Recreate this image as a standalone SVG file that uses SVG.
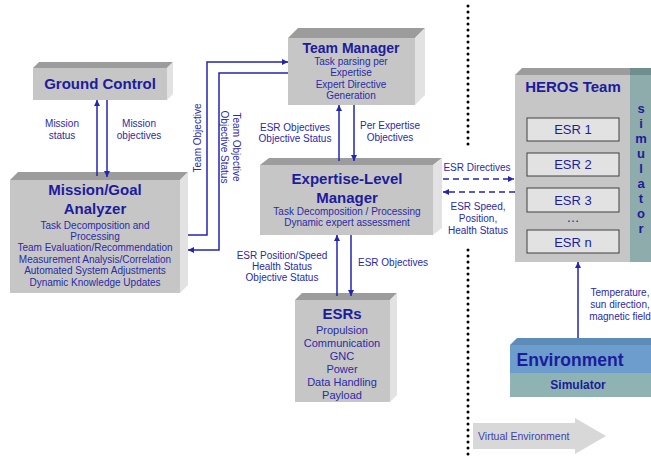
<svg xmlns="http://www.w3.org/2000/svg" width="651" height="460" viewBox="0 0 651 460">
<defs>
<style>
text{font-family:"Liberation Sans",Arial,sans-serif;text-anchor:middle}
.h{font-weight:bold;fill:#1c1c9c}
.s{font-size:10px;fill:#2a2aa8}
.l{font-size:10px;fill:#2a2aa8}
.fr{fill:#c6c6c6}
.tp{fill:#9c9c9c}
.sd{fill:#e2e2e2}
.ln{fill:none;stroke:#2424b4;stroke-width:1.5}
.dl{fill:none;stroke:#2424b4;stroke-width:1.5;stroke-dasharray:6 4}
.esr{fill:#e2e2e2;stroke:#404040;stroke-width:1}
.et{font-size:13px;fill:#1c1c9c}
.sim{font-size:13px;font-weight:bold;fill:#1c1c9c}
</style>
<marker id="ah" viewBox="0 0 10 10" refX="10" refY="5" markerWidth="6" markerHeight="6" markerUnits="userSpaceOnUse" orient="auto">
<path d="M0,0 L10,5 L0,10 Z" fill="#2424b4"/>
</marker>
</defs>

<!-- dotted divider -->
<g id="divider">
<line x1="468" y1="6" x2="468" y2="146" stroke="#000" stroke-width="3" stroke-linecap="round" stroke-dasharray="0 6"/>
<line x1="468" y1="250" x2="468" y2="460" stroke="#000" stroke-width="3" stroke-linecap="round" stroke-dasharray="0 6"/>
</g>

<g id="ground-control">
<polygon class="tp" points="33,68 39,62 173,62 167,68"/>
<polygon class="sd" points="167,68 173,62 173,94 167,100"/>
<rect class="fr" x="33" y="68" width="134" height="32"/>
<text class="h" x="100" y="89" font-size="15">Ground Control</text>
</g>

<g id="mission-goal-analyzer">
<polygon class="tp" points="10,180 18,172 188,172 180,180"/>
<polygon class="sd" points="180,180 188,172 188,285 180,293"/>
<rect class="fr" x="10" y="180" width="170" height="113"/>
<text class="h" x="95" y="195" font-size="15">Mission/Goal</text>
<text class="h" x="95" y="214" font-size="15">Analyzer</text>
<text class="s" x="95" y="229">Task Decomposition and</text>
<text class="s" x="95" y="240">Processing</text>
<text class="s" x="95" y="251">Team Evaluation/Recommendation</text>
<text class="s" x="95" y="263">Measurement Analysis/Correlation</text>
<text class="s" x="95" y="274">Automated System Adjustments</text>
<text class="s" x="95" y="286">Dynamic Knowledge Updates</text>
</g>

<g id="team-manager">
<polygon class="tp" points="288,38 298,28 425,28 415,38"/>
<polygon class="sd" points="415,38 425,28 425,95 415,105"/>
<rect class="fr" x="288" y="38" width="127" height="67"/>
<text class="h" x="351" y="53" font-size="14">Team Manager</text>
<text class="s" x="351" y="65">Task parsing per</text>
<text class="s" x="351" y="76">Expertise</text>
<text class="s" x="351" y="88">Expert Directive</text>
<text class="s" x="351" y="99">Generation</text>
</g>

<g id="expertise-level-manager">
<polygon class="tp" points="260,165 269,158 442,158 433,165"/>
<polygon class="sd" points="433,165 442,158 442,228 433,235"/>
<rect class="fr" x="260" y="165" width="173" height="70"/>
<text class="h" x="347" y="184" font-size="15">Expertise-Level</text>
<text class="h" x="347" y="203" font-size="15">Manager</text>
<text class="s" x="347" y="215">Task Decomposition / Processing</text>
<text class="s" x="347" y="226">Dynamic expert assessment</text>
</g>

<g id="esrs">
<polygon class="tp" points="295,300 302,293 397,293 390,300"/>
<polygon class="sd" points="390,300 397,293 397,395 390,402"/>
<rect class="fr" x="295" y="300" width="95" height="102"/>
<text class="h" x="342" y="319" font-size="15">ESRs</text>
<text class="s" x="342" y="334" font-size="11" style="font-size:11px">Propulsion</text>
<text class="s" x="342" y="347" style="font-size:11px">Communication</text>
<text class="s" x="342" y="360" style="font-size:11px">GNC</text>
<text class="s" x="342" y="373" style="font-size:11px">Power</text>
<text class="s" x="342" y="386" style="font-size:11px">Data Handling</text>
<text class="s" x="342" y="399" style="font-size:11px">Payload</text>
</g>

<g id="heros-team">
<polygon class="tp" points="515,75 522,68 630,68 630,75"/>
<polygon fill="#6f8f8e" points="630,75 630,68 651,68 651,75"/>
<rect class="fr" x="515" y="75" width="115" height="187"/>
<rect fill="#8eacab" x="630" y="75" width="21" height="187"/>
<text class="h" x="573" y="92" font-size="15">HEROS Team</text>
<rect class="esr" x="527" y="118" width="92" height="23"/>
<text class="et" x="573" y="134">ESR 1</text>
<rect class="esr" x="527" y="153" width="92" height="23"/>
<text class="et" x="573" y="169">ESR 2</text>
<rect class="esr" x="527" y="188" width="92" height="24"/>
<text class="et" x="573" y="205">ESR 3</text>
<text class="et" x="573" y="222">…</text>
<rect class="esr" x="527" y="230" width="92" height="23"/>
<text class="et" x="573" y="247">ESR n</text>
<text class="sim" x="641" y="113">s</text>
<text class="sim" x="641" y="128">i</text>
<text class="sim" x="641" y="143">m</text>
<text class="sim" x="641" y="158">u</text>
<text class="sim" x="641" y="173">l</text>
<text class="sim" x="641" y="188">a</text>
<text class="sim" x="641" y="203">t</text>
<text class="sim" x="641" y="218">o</text>
<text class="sim" x="641" y="233">r</text>
</g>

<g id="environment">
<polygon fill="#5d8cb9" points="510,345 517,338 651,338 651,345"/>
<rect fill="#6d9dcc" x="510" y="345" width="141" height="28"/>
<rect fill="#8fb3b2" x="510" y="373" width="141" height="24"/>
<text class="h" x="570" y="366" font-size="17.5">Environment</text>
<text class="h" x="578" y="389" font-size="12">Simulator</text>
</g>

<g id="virtual-environment">
<polygon fill="#d8d8d8" points="473,423 575,423 575,418 606,436 575,454 575,449 473,449"/>
<text x="478" y="440" font-size="10.5" fill="#4040b0" style="text-anchor:start">Virtual Environment</text>
</g>

<g id="connectors">
<line class="ln" x1="97" y1="176" x2="97" y2="100" marker-end="url(#ah)"/>
<line class="ln" x1="107" y1="100" x2="107" y2="177" marker-end="url(#ah)"/>
<polyline class="ln" points="188,235 207,235 207,62 288,62" marker-end="url(#ah)"/>
<polyline class="ln" points="288,73 219,73 219,250 188,250" marker-end="url(#ah)"/>
<line class="ln" x1="339" y1="161" x2="339" y2="105" marker-end="url(#ah)"/>
<line class="ln" x1="354" y1="105" x2="354" y2="161" marker-end="url(#ah)"/>
<line class="ln" x1="337" y1="296" x2="337" y2="235" marker-end="url(#ah)"/>
<line class="ln" x1="351" y1="235" x2="351" y2="296" marker-end="url(#ah)"/>
<line class="dl" x1="443" y1="179" x2="514" y2="179" marker-end="url(#ah)"/>
<line class="dl" x1="515" y1="192" x2="443" y2="192" marker-end="url(#ah)"/>
<line class="ln" x1="578" y1="338" x2="578" y2="262" marker-end="url(#ah)"/>
</g>

<g id="labels">
<text class="l" x="62" y="127">Mission</text>
<text class="l" x="62" y="139">status</text>
<text class="l" x="139" y="127">Mission</text>
<text class="l" x="139" y="139">objectives</text>
<text class="l" transform="translate(201,138) rotate(-90)">Team Objective</text>
<text class="l" transform="translate(233,147) rotate(90)">Team Objective</text>
<text class="l" transform="translate(221,147) rotate(90)">Objective Status</text>
<text class="l" x="295" y="131">ESR Objectives</text>
<text class="l" x="295" y="142">Objective Status</text>
<text class="l" x="390" y="129">Per Expertise</text>
<text class="l" x="390" y="141">Objectives</text>
<text class="l" x="282" y="259">ESR Position/Speed</text>
<text class="l" x="282" y="270">Health Status</text>
<text class="l" x="282" y="281">Objective Status</text>
<text class="l" x="393" y="266">ESR Objectives</text>
<text class="l" x="477" y="171">ESR Directives</text>
<text class="l" x="478" y="210">ESR Speed,</text>
<text class="l" x="478" y="222">Position,</text>
<text class="l" x="478" y="234">Health Status</text>
<text class="l" x="620" y="296">Temperature,</text>
<text class="l" x="620" y="308">sun direction,</text>
<text class="l" x="620" y="320">magnetic field</text>
</g>
</svg>
